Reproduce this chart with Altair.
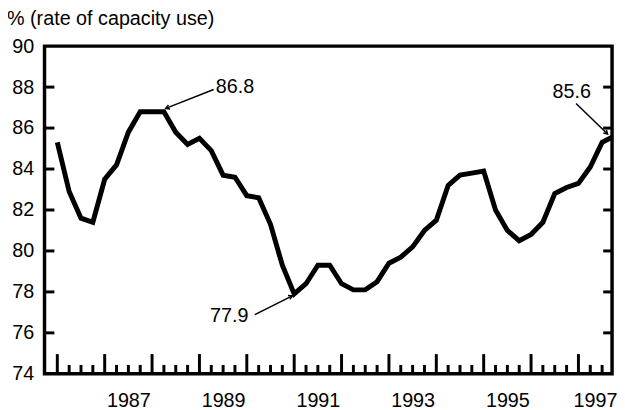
import altair as alt
import pandas as pd

# Quarterly capacity utilization, 1986Q1 .. 1997Q4
capacity = [85.3, 82.9, 81.6, 81.4, 83.5, 84.2, 85.8, 86.8, 86.8, 86.8, 85.8, 85.2,
            85.5, 84.9, 83.7, 83.6, 82.7, 82.6, 81.3, 79.3, 77.9, 78.4, 79.3, 79.3,
            78.4, 78.1, 78.1, 78.5, 79.4, 79.7, 80.2, 81.0, 81.5, 83.2, 83.7, 83.8,
            83.9, 82.0, 81.0, 80.5, 80.8, 81.4, 82.8, 83.1, 83.3, 84.1, 85.3, 85.6]
start_year = 1986
year_label_pos = [1987.5, 1989.5, 1991.5, 1993.5, 1995.5, 1997.35]
y_tick_values = [76, 78, 80, 82, 84, 86, 88]

ann_text = ["86.8", "77.9", "85.6"]
ann_x = [1989.75, 1989.63, 1996.86]
ann_y = [87.98, 76.80, 87.78]
arrow_x1 = [1989.30, 1990.17, 1996.95]
arrow_y1 = [87.88, 76.89, 87.20]
arrow_x2 = [1988.29, 1990.96, 1997.615]
arrow_y2 = [86.96, 77.81, 85.71]
arrow_angle = [248.4, 63.4, 134.1]

TITLE = "% (rate of capacity use)"
FONT = "Liberation Sans"
W, H = 575, 332

df = pd.DataFrame({
    "t": [start_year + i / 4 for i in range(len(capacity))],
    "v": capacity,
    "q": [i % 4 for i in range(len(capacity))],
})
ticks_df = df.iloc[:-1]
ann = pd.DataFrame({"text": ann_text, "x": ann_x, "y": ann_y,
                    "x1": arrow_x1, "y1": arrow_y1, "x2": arrow_x2, "y2": arrow_y2,
                    "angle": arrow_angle})
yt = pd.DataFrame({"y": y_tick_values})

xscale = alt.Scale(domain=[1985.73, 1997.71], nice=False, zero=False)
yscale = alt.Scale(domain=[74, 90], nice=False, zero=False)

xaxis = alt.Axis(values=year_label_pos, labelExpr="floor(datum.value)", title=None,
                 tickSize=0, domain=False, grid=False, labelFont=FONT, labelFontSize=20,
                 labelColor="black", labelPadding=17, labelFlush=False, labelOverlap=False)
yaxis = alt.Axis(values=[74, 76, 78, 80, 82, 84, 86, 88, 90], title=None, tickSize=0,
                 domain=False, grid=False, labelFont=FONT, labelFontSize=20,
                 labelColor="black", labelPadding=11)

line = alt.Chart(df).mark_line(color="black", strokeWidth=5, clip=True, strokeJoin="miter").encode(
    x=alt.X("t:Q", scale=xscale, axis=xaxis),
    y=alt.Y("v:Q", scale=yscale, axis=yaxis),
)

long_ticks = alt.Chart(ticks_df).transform_filter("datum.q == 0").mark_rule(
    color="black", strokeWidth=3).encode(
    x=alt.X("t:Q", scale=xscale), y=alt.value(H), y2=alt.value(H - 20))
short_ticks = alt.Chart(ticks_df).transform_filter("datum.q != 0").mark_rule(
    color="black", strokeWidth=3).encode(
    x=alt.X("t:Q", scale=xscale), y=alt.value(H), y2=alt.value(H - 9))

left_ticks = alt.Chart(yt).mark_rule(color="black", strokeWidth=3).encode(
    y=alt.Y("y:Q", scale=yscale), x=alt.value(0), x2=alt.value(10))
right_ticks = alt.Chart(yt).mark_rule(color="black", strokeWidth=3).encode(
    y=alt.Y("y:Q", scale=yscale), x=alt.value(W - 9), x2=alt.value(W))

arrows = alt.Chart(ann).mark_rule(color="black", strokeWidth=1.5).encode(
    x=alt.X("x1:Q", scale=xscale), y=alt.Y("y1:Q", scale=yscale),
    x2="x2:Q", y2="y2:Q")
heads = alt.Chart(ann).mark_point(shape="M-0.7,1.2L0,0L0.7,1.2", filled=False,
                                  stroke="black", strokeWidth=1.5, size=40,
                                  opacity=1).encode(
    x=alt.X("x2:Q", scale=xscale), y=alt.Y("y2:Q", scale=yscale),
    angle=alt.Angle("angle:Q", scale=None))
labels = alt.Chart(ann).mark_text(font=FONT, fontSize=20, color="black",
                                  align="center", baseline="middle").encode(
    x=alt.X("x:Q", scale=xscale), y=alt.Y("y:Q", scale=yscale), text="text:N")

title = alt.Chart(pd.DataFrame({"title": [TITLE]})).mark_text(
    font=FONT, fontSize=20, color="black", align="left", baseline="alphabetic").encode(
    x=alt.value(-38), y=alt.value(-21), text="title:N")

frame = alt.Chart(pd.DataFrame({"a": [0]})).mark_rect(
    fill=None, stroke="black", strokeWidth=3.5).encode(
    x=alt.value(0), x2=alt.value(W), y=alt.value(0), y2=alt.value(H))

chart = alt.layer(line, long_ticks, short_ticks, left_ticks, right_ticks,
                  arrows, heads, labels, title, frame).properties(
    width=W, height=H,
    background="white",
    autosize=alt.AutoSizeParams(type="none"),
    padding={"left": 37, "top": 36, "right": 5, "bottom": 34},
).configure_view(stroke=None)

chart.save("out.html", embed_options={"renderer": "svg", "actions": False})
